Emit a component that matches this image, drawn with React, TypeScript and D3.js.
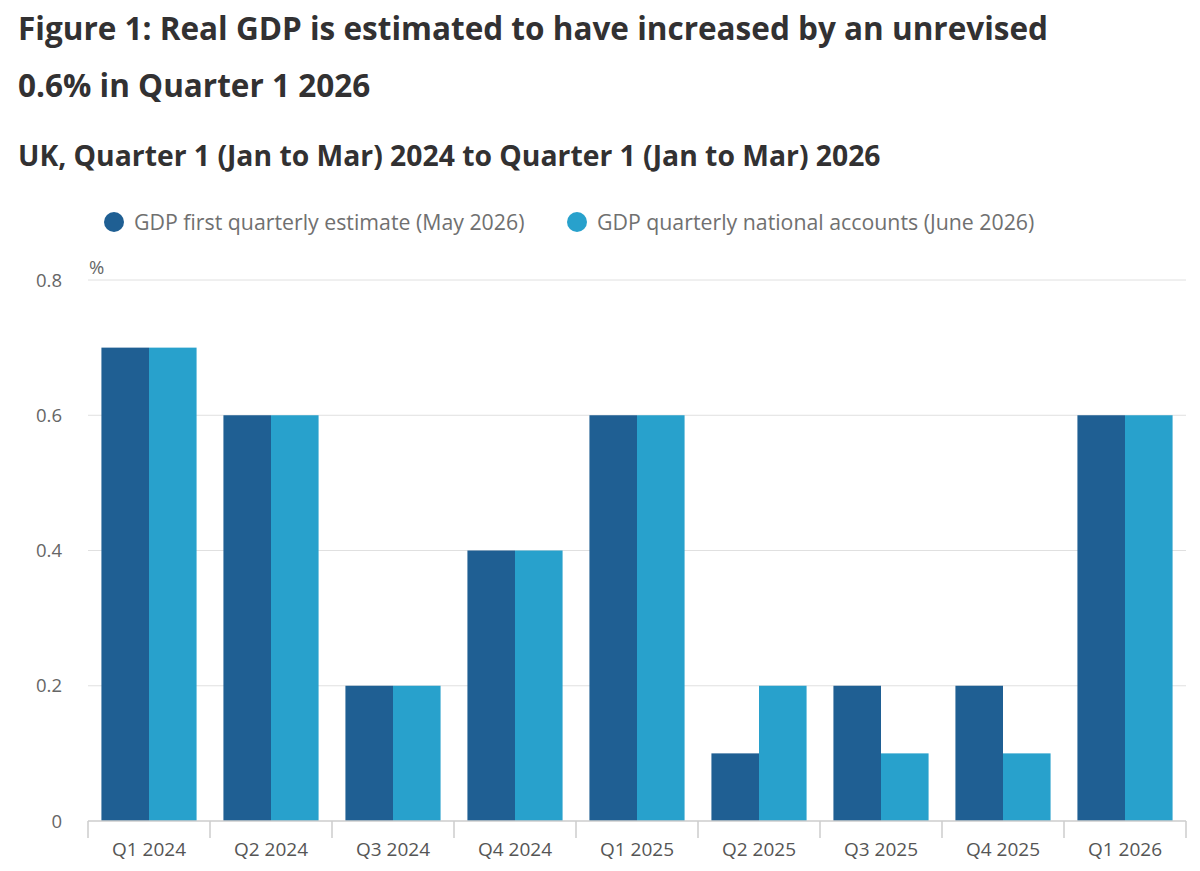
import React from "react";
import * as d3 from "d3";

const quarters = [
  "Q1 2024", "Q2 2024", "Q3 2024", "Q4 2024", "Q1 2025",
  "Q2 2025", "Q3 2025", "Q4 2025", "Q1 2026",
];
const firstEstimate = [0.7, 0.6, 0.2, 0.4, 0.6, 0.1, 0.2, 0.2, 0.6];
const nationalAccounts = [0.7, 0.6, 0.2, 0.4, 0.6, 0.2, 0.1, 0.1, 0.6];
const seriesNames = [
  "GDP first quarterly estimate (May 2026)",
  "GDP quarterly national accounts (June 2026)",
];
const yTicks = [0, 0.2, 0.4, 0.6, 0.8];

const colors = ["#1f5f93", "#28a1cc"];
const font = "'Open Sans', sans-serif";

const App = () => {
  const width = 1200;
  const height = 871;
  const margin = { left: 88, right: 14, top: 280, bottom: 50 };

  const x = d3
    .scaleBand<string>()
    .domain(quarters)
    .range([margin.left, width - margin.right])
    .paddingInner(0.22)
    .paddingOuter(0.11);

  const inner = d3
    .scaleBand<number>()
    .domain([0, 1])
    .range([0, x.bandwidth()]);

  const y = d3
    .scaleLinear()
    .domain([0, 0.8])
    .range([height - margin.bottom, margin.top]);

  const series = [firstEstimate, nationalAccounts];
  const step = x.step();
  const x0 = margin.left;
  const x1 = width - margin.right;
  const base = y(0);

  return (
    <svg width={width} height={height} style={{ position: "absolute", left: 0, top: 0 }}>
      <rect width={width} height={height} fill="#fff" />
      <g fontFamily={font} fill="#323132" fontWeight={700}>
        <text x={18} y={40} fontSize={31.5}>
          Figure 1: Real GDP is estimated to have increased by an unrevised
        </text>
        <text x={18} y={97} fontSize={31.5}>
          0.6% in Quarter 1 2026
        </text>
        <text x={18} y={166} fontSize={28.3}>
          UK, Quarter 1 (Jan to Mar) 2024 to Quarter 1 (Jan to Mar) 2026
        </text>
      </g>

      {/* legend */}
      <g fontFamily={font} fontSize={21.3} fill="#707070">
        {seriesNames.map((name, i) => {
          const lx = i === 0 ? 114 : 577;
          return (
            <g key={name}>
              <circle cx={lx} cy={222} r={10} fill={colors[i]} />
              <text x={lx + 20} y={229.5}>{name}</text>
            </g>
          );
        })}
      </g>

      {/* gridlines and y labels */}
      <g fontFamily={font} fontSize={18.5} fill="#666">
        {yTicks.map((t) => (
          <g key={t}>
            {t > 0 && (
              <line x1={x0} x2={x1} y1={y(t)} y2={y(t)} stroke="#e0e0e0" strokeWidth={1} />
            )}
            <text x={62} y={y(t) + 6.5} textAnchor="end">
              {t === 0 ? "0" : d3.format(".1f")(t)}
            </text>
          </g>
        ))}
        <text x={89} y={274}>%</text>
      </g>

      {/* bars */}
      <g>
        {quarters.map((q, i) => (
          <g key={q} transform={`translate(${x(q)},0)`}>
            {series.map((vals, s) => (
              <rect
                key={s}
                x={inner(s)}
                y={y(vals[i])}
                width={inner.bandwidth()}
                height={base - y(vals[i])}
                fill={colors[s]}
              />
            ))}
          </g>
        ))}
      </g>

      {/* x axis */}
      <g fontFamily={font} fontSize={19} fill="#555">
        <line x1={x0} x2={x1} y1={base} y2={base} stroke="#ccc" strokeWidth={1.5} />
        {d3.range(quarters.length + 1).map((k) => (
          <line
            key={k}
            x1={x0 + k * step}
            x2={x0 + k * step}
            y1={base}
            y2={base + 17}
            stroke="#ccc"
            strokeWidth={1.5}
          />
        ))}
        {quarters.map((q) => (
          <text key={q} x={(x(q) ?? 0) + x.bandwidth() / 2} y={base + 35} textAnchor="middle">
            {q}
          </text>
        ))}
      </g>
    </svg>
  );
};

export default App;
